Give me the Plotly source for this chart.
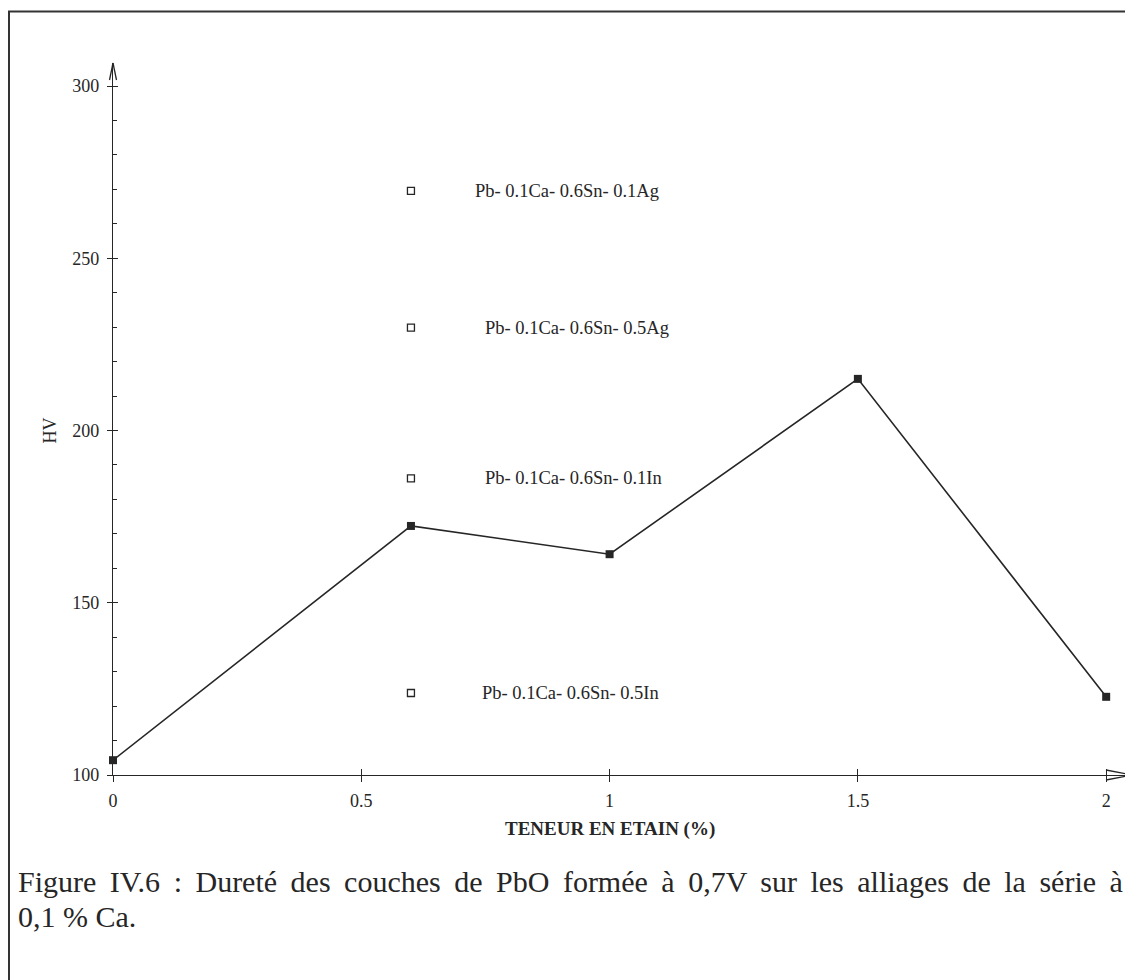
import plotly.graph_objects as go

# ---- data ----
tin_content = [0, 0.6, 1, 1.5, 2]
hardness = [104.3, 172.3, 164.1, 215.0, 122.7]

alloy_x = [0.6, 0.6, 0.6, 0.6]
alloy_hv = [269.6, 229.9, 186.1, 123.8]
alloy_labels = ["Pb- 0.1Ca- 0.6Sn- 0.1Ag", "Pb- 0.1Ca- 0.6Sn- 0.5Ag",
                "Pb- 0.1Ca- 0.6Sn- 0.1In", "Pb- 0.1Ca- 0.6Sn- 0.5In"]
label_x = [0.725, 0.745, 0.745, 0.7395]

x_ticks = [0, 0.5, 1, 1.5, 2]
x_ticktext = ["0", "0.5", "1", "1.5", "2"]
y_ticks = [100, 150, 200, 250, 300]

x_title = "TENEUR EN ETAIN (%)"
y_title = "HV"
caption_1 = "Figure IV.6 : Dureté des couches de PbO formée à 0,7V sur les alliages de la série à"
caption_2 = "0,1 % Ca."

# ---- layout constants (page pixels; the page body adds an 8px offset) ----
OFF = 8
W, H = 1133 - OFF, 980 - OFF
PLOT_L, PLOT_R, PLOT_T, PLOT_B = 113, 1132, 63, 775   # page pixels
ML = PLOT_L - OFF
MR = W - (PLOT_R - OFF)
MT = PLOT_T - OFF
MB = H - (PLOT_B - OFF)
XR = [0, 2.052]
YR = [100, 306.7]
PW = PLOT_R - PLOT_L
PH = PLOT_B - PLOT_T
SERIF = "Liberation Serif, Times New Roman, serif"
INK = "#262626"


def px2paper_x(px):
    return (px - PLOT_L) / PW


def px2paper_y(py):
    return (PLOT_B - py) / PH


fig = go.Figure()

fig.add_trace(go.Scatter(
    x=tin_content, y=hardness, mode="lines+markers",
    line=dict(color=INK, width=1.6),
    marker=dict(symbol="square", size=8, color=INK),
    showlegend=False, cliponaxis=False))

fig.add_trace(go.Scatter(
    x=alloy_x, y=alloy_hv, mode="markers",
    marker=dict(symbol="square-open", size=7, color=INK, line=dict(width=1.3)),
    showlegend=False, cliponaxis=False))

# invisible trace for the overlay axes (crossing major ticks)
fig.add_trace(go.Scatter(x=[XR[0]], y=[YR[0]], xaxis="x2", yaxis="y2",
                         mode="markers", marker=dict(opacity=0),
                         showlegend=False, hoverinfo="skip"))

for lx, ly, txt in zip(label_x, alloy_hv, alloy_labels):
    fig.add_annotation(x=lx, y=ly, xref="x", yref="y", text=txt,
                       showarrow=False, xanchor="left", yanchor="middle",
                       font=dict(family=SERIF, size=18.5, color=INK))

# axis titles
fig.add_annotation(x=1, y=px2paper_y(829), xref="x", yref="paper",
                   text="<b>" + x_title + "</b>", showarrow=False,
                   xanchor="center", yanchor="middle",
                   font=dict(family=SERIF, size=19, color=INK))
fig.add_annotation(x=px2paper_x(50), y=200, xref="paper", yref="y",
                   text=y_title, showarrow=False, textangle=-90,
                   xanchor="center", yanchor="middle",
                   font=dict(family=SERIF, size=18, color=INK))

# caption
fig.add_annotation(x=px2paper_x(16), y=px2paper_y(882), xref="paper", yref="paper",
                   text=caption_1.replace(" ", " \u2009"), showarrow=False,
                   xanchor="left", yanchor="middle",
                   font=dict(family=SERIF, size=30, color=INK))
fig.add_annotation(x=px2paper_x(16), y=px2paper_y(916), xref="paper", yref="paper",
                   text=caption_2, showarrow=False,
                   xanchor="left", yanchor="middle",
                   font=dict(family=SERIF, size=30, color=INK))

# outer frame (left and top edges visible)
fig.add_shape(type="line", xref="paper", yref="paper",
              x0=px2paper_x(9), x1=px2paper_x(9), y0=px2paper_y(11), y1=px2paper_y(990),
              line=dict(color="#333", width=2))
fig.add_shape(type="line", xref="paper", yref="paper",
              x0=px2paper_x(8), x1=px2paper_x(1145), y0=px2paper_y(11.5), y1=px2paper_y(11.5),
              line=dict(color="#333", width=2))

# axis arrowheads (open chevrons), anchored at the axis ends
for s in (1, -1):
    fig.add_shape(type="line", xref="paper", yref="paper",
                  xsizemode="pixel", xanchor=1, x0=-26, x1=0,
                  ysizemode="pixel", yanchor=0, y0=5 * s, y1=0,
                  line=dict(color=INK, width=1.3))
    fig.add_shape(type="line", xref="paper", yref="paper",
                  xsizemode="pixel", xanchor=0, x0=3.5 * s, x1=0,
                  ysizemode="pixel", yanchor=1, y0=-17, y1=0,
                  line=dict(color=INK, width=1.3))

axis_common = dict(showgrid=False, zeroline=False, tickcolor=INK,
                   tickfont=dict(family=SERIF, size=18, color=INK))

fig.update_layout(
    width=W, height=H,
    margin=dict(l=ML, r=MR, t=MT, b=MB),
    paper_bgcolor="white", plot_bgcolor="white",
    xaxis=dict(range=XR, tickvals=x_ticks, ticktext=x_ticktext,
               showline=True, linecolor=INK, linewidth=1.3,
               ticks="outside", ticklen=6, tickwidth=1.2,
               ticklabelstandoff=3, **axis_common),
    yaxis=dict(range=YR, tickvals=y_ticks,
               showline=True, linecolor=INK, linewidth=1.3,
               ticks="outside", ticklen=5, tickwidth=1.2,
               ticklabelstandoff=4,
               minor=dict(dtick=10, tick0=100, ticks="inside", ticklen=4,
                          tickwidth=1, tickcolor=INK),
               **axis_common),
    xaxis2=dict(range=XR, overlaying="x", side="bottom", anchor="y2",
                tickvals=x_ticks, ticks="inside", ticklen=6, tickwidth=1.2,
                showticklabels=False, showgrid=False, zeroline=False,
                tickcolor=INK, showline=False),
    yaxis2=dict(range=YR, overlaying="y", side="left", anchor="x2",
                tickvals=y_ticks, ticks="inside", ticklen=5, tickwidth=1.2,
                showticklabels=False, showgrid=False, zeroline=False,
                tickcolor=INK, showline=False),
)

fig.write_html("out.html")
